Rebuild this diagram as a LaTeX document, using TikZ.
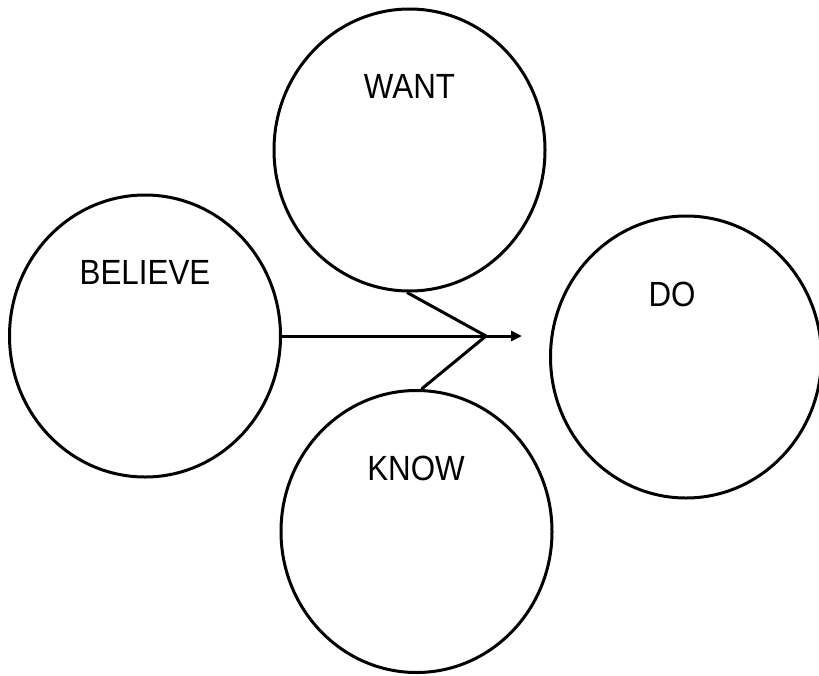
\documentclass[tikz,border=0pt]{standalone}
\usepackage{fontspec}
\newfontfamily\lblfont[FakeStretch=0.895]{Liberation Sans}
\usetikzlibrary{shapes.geometric,arrows.meta}
\begin{document}
\begin{tikzpicture}[x=1pt,y=-1pt,
  bubble/.style={draw=black,line width=3pt,ellipse,minimum width=271pt,minimum height=282pt,inner sep=0pt},
  word/.style={inner sep=0pt,font=\lblfont\fontsize{35pt}{40pt}\selectfont},
  conn/.style={draw=black,line width=3pt}]
\useasboundingbox (0,0) rectangle (819,675);
\node[bubble] (want) at (409.5,150) {};
\node[bubble] (believe) at (145,336) {};
\node[bubble] (do) at (686,357) {};
\node[bubble] (know) at (416.5,531.5) {};
\node[word] (wantt) at (409.5,86.7) {WANT};
\node[word] (believet) at (145,272.7) {BELIEVE};
\node[word] (dot) at (672,294.5) {DO};
\node[word] (knowt) at (416,468.8) {KNOW};
\coordinate (v) at (486,336);
\coordinate (tip) at (522,336);
\draw[conn,-{Triangle[length=11pt,width=10pt]}] (believe.east) -- (tip);
\draw[conn] (want.269) -- (v);
\draw[conn] (know.88) -- (v);
\end{tikzpicture}
\end{document}
